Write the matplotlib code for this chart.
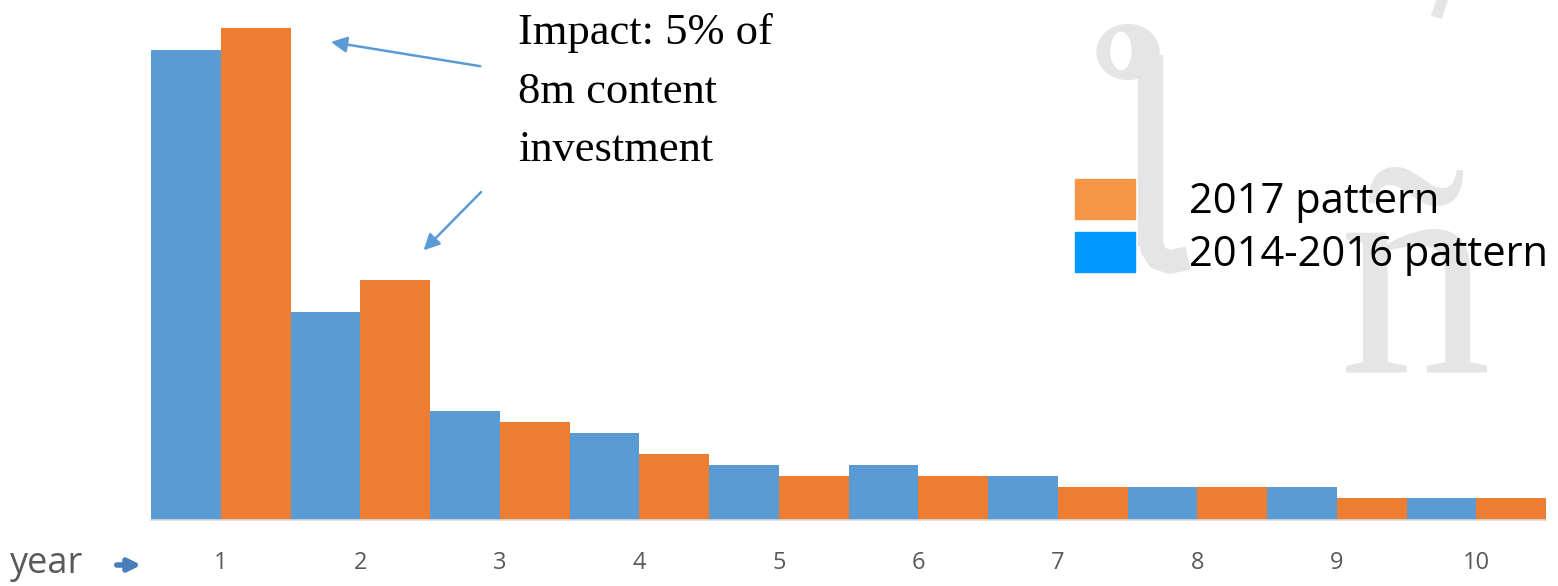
import matplotlib.pyplot as plt
import numpy as np
from matplotlib.patches import Patch, Ellipse, Rectangle
from matplotlib.lines import Line2D

# values (share of total, %)
years = [1, 2, 3, 4, 5, 6, 7, 8, 9, 10]
pattern_2014_2016 = [43, 19, 10, 8, 5, 5, 4, 3, 3, 2]
pattern_2017 = [45, 22, 9, 6, 4, 4, 3, 3, 2, 2]
year_labels = ['1', '2', '3', '4', '5', '6', '7', '8', '9', '10']

barWidth = 0.5
sans = ['Open Sans', 'DejaVu Sans']
W, H = 1558, 586
wm = '#e5e5e5'

fig = plt.figure(figsize=(15.58, 5.86), dpi=100)

def fx(px):
	return px / W

def fy(py):
	return 1 - py / H

######### watermark decoration (slide background) #######
fig.add_artist(Ellipse((fx(1128), fy(52)), fx(62), 55 / H, color=wm, zorder=0))
fig.add_artist(Ellipse((fx(1121), fy(51)), fx(20), 37 / H, color='white', zorder=0))
fig.add_artist(Rectangle((fx(1138), fy(245)), fx(24), 190 / H, color=wm, zorder=0))
fig.add_artist(Line2D([fx(1150), fx(1152), fx(1158), fx(1170), fx(1188)],
                      [fy(230), fy(248), fy(258), fy(262), fy(258)],
                      color=wm, lw=17, solid_capstyle='butt', zorder=0))
fig.add_artist(Line2D([fx(1442), fx(1438)], [fy(0), fy(12)], color=wm, lw=8, zorder=0))
fig.text(fx(1415), fy(372), '\u00f1', fontsize=220, color=wm,
         family='Liberation Serif', ha='center', va='baseline', zorder=0)

ax = fig.add_axes([fx(151), 66 / H, 1395 / W, 520 / H])
ax.patch.set_visible(False)

x = np.arange(1, len(years) + 1)
ax.bar(x - barWidth / 2, pattern_2014_2016, width=barWidth, color='#5B9BD5', zorder=2)
ax.bar(x + barWidth / 2, pattern_2017, width=barWidth, color='#ED7D31', zorder=2)

ax.set_xlim(0.5, 10.5)
ax.set_ylim(0, 47.6)
ax.set_yticks([])
ax.set_xticks(x)
ax.set_xticklabels(year_labels, fontsize=17, color='#595959', family=sans)
ax.tick_params(axis='x', length=0, pad=22)
for s in ['top', 'right', 'left']:
	ax.spines[s].set_visible(False)
ax.spines['bottom'].set_color('#d9d9d9')
ax.spines['bottom'].set_linewidth(1.2)

# "year ->" label
fig.text(fx(10), fy(573), 'year', fontsize=26, color='#595959',
         family=sans, ha='left', va='baseline')
ax.annotate('', xy=(fx(144), fy(565)), xytext=(fx(114), fy(565)),
            xycoords='figure fraction', textcoords='figure fraction',
            arrowprops=dict(arrowstyle='-|>', color='#4A7EBB', lw=4, mutation_scale=18))

# annotation
ax.text(3.13, 46.4, 'Impact: 5% of\n8m content\ninvestment', fontsize=32,
        family='Liberation Serif', color='black', ha='left', va='top', linespacing=1.6)
ax.annotate('', xy=(1.77, 43.8), xytext=(2.88, 41.5),
            arrowprops=dict(arrowstyle='-|>', color='#5B9BD5', lw=1.8, mutation_scale=24))
ax.annotate('', xy=(2.44, 24.5), xytext=(2.88, 30.2),
            arrowprops=dict(arrowstyle='-|>', color='#5B9BD5', lw=1.8, mutation_scale=24))

# legend
handles = [Patch(color='#F79646'), Patch(color='#0099FF')]
leg = fig.legend(handles, ['2017 pattern', '2014-2016 pattern'],
                 loc='upper left', bbox_to_anchor=(fx(1075), fy(179)),
                 bbox_transform=fig.transFigure, frameon=False, borderpad=0,
                 borderaxespad=0, prop={'family': sans, 'size': 30},
                 handlelength=1.44, handleheight=1.1, handletextpad=1.3, labelspacing=0.22)

fig.savefig('out.png', dpi=100)
